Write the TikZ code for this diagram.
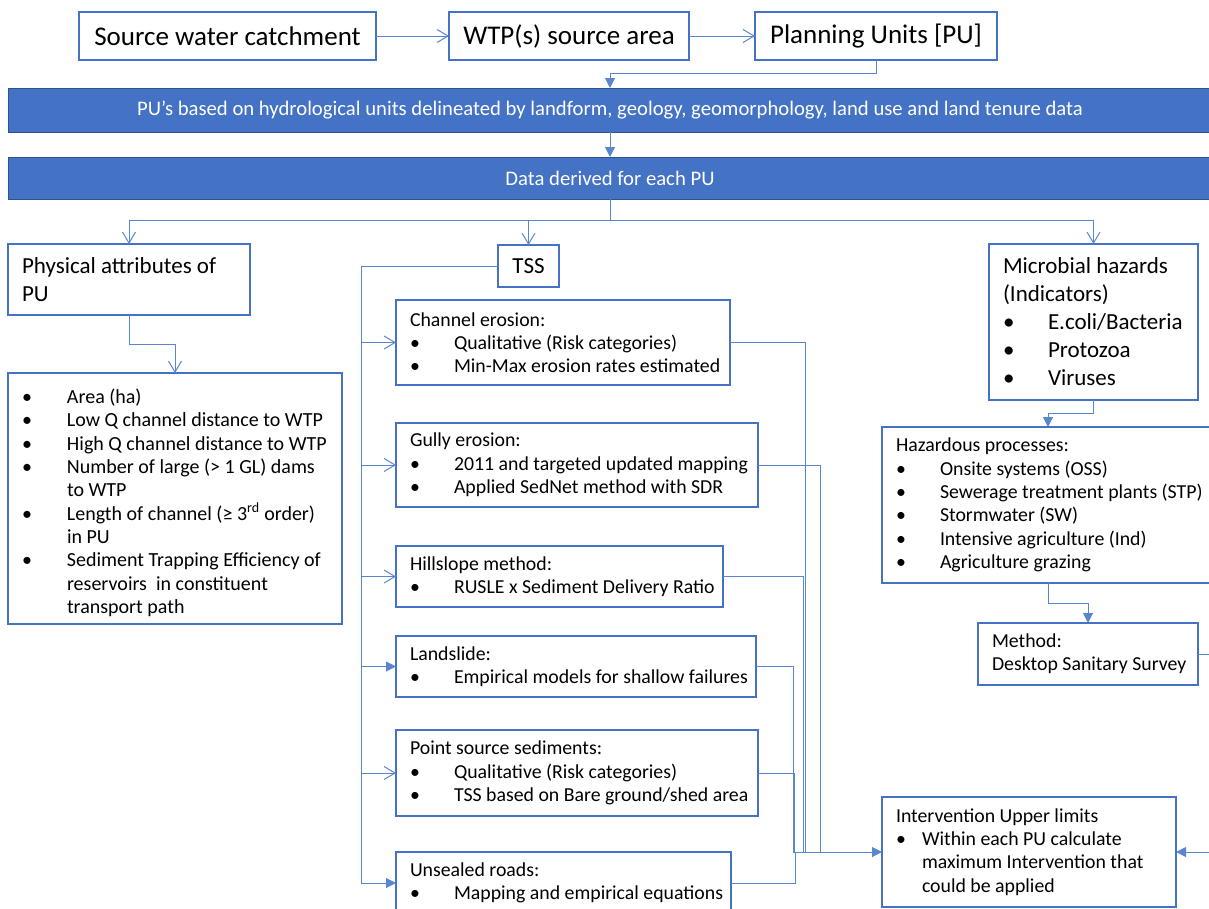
\documentclass[tikz,border=0pt]{standalone}
\usepackage{fontspec}
\setmainfont{Carlito}
\usepackage{tikz}
\usetikzlibrary{arrows.meta, positioning, calc}

\definecolor{pubblue}{HTML}{4472C4}
\definecolor{pubdark}{HTML}{2F528F}
\definecolor{linkblue}{HTML}{5A86D0}

\newcommand{\listfont}{\fontsize{19.8}{23.3}\selectfont}
\newcommand{\headfont}{\fontsize{23}{28}\selectfont}
\newcommand{\bul}[2][44pt]{\par\rightskip=-40pt plus 1fil\hangindent=#1\hangafter=0\noindent\llap{\makebox[#1][l]{\textbullet}}#2\par}

\tikzset{
  box/.style={draw=pubblue, line width=2.2pt, fill=white, anchor=north west, outer sep=0pt, inner xsep=14pt, inner ysep=0pt, align=flush left},
  boxwh/.style 2 args={box, minimum width=#1, minimum height=#2, text width=#1-28pt},
  topbox/.style={box, align=center, minimum height=48pt, font=\fontsize{27}{32}\selectfont},
  band/.style={fill=pubblue, draw=pubdark, line width=0.8pt, text=white, anchor=north west, outer sep=0pt, minimum width=1204pt, font=\fontsize{20.7}{24}\selectfont},
  conn/.style={draw=linkblue, line width=1pt},
  openarr/.style={conn, -{Straight Barb[length=11pt, width=13pt]}},
  fillarr/.style={conn, -{Triangle[length=10pt, width=10pt]}}
}

\begin{document}
\begin{tikzpicture}[x=1pt, y=-1pt]
    \useasboundingbox (0,0) rectangle (1209,908);
    % Top row
    \node[topbox, minimum width=297pt] (src) at (79,12) {Source water catchment};
    \node[topbox, minimum width=240pt] (wtp) at (449,12) {WTP(s) source area};
    \node[topbox, minimum width=242pt] (pu) at (755,12) {Planning Units [PU]};
    % Bands
    \node[band, minimum height=44pt] (units) at (8,88) {PU’s based on hydrological units delineated by landform, geology, geomorphology, land use and land tenure data};
    \node[band, minimum height=42pt] (derived) at (8,157) {Data derived for each PU};
    % Physical attributes
    \node[boxwh={242pt}{71pt}, font=\headfont] (phys) at (8,244) {Physical attributes of\\PU};
    \node[boxwh={334pt}{251pt}, font=\fontsize{20}{23.3}\selectfont] (physlist) at (8,373) {\bul[45pt]{Area (ha)}\bul[45pt]{Low Q channel distance to WTP}\bul[45pt]{High Q channel distance to WTP}\bul[45pt]{Number of large (> 1 GL) dams\newline to WTP}\bul[45pt]{Length of channel (≥ 3\textsuperscript{rd} order)\newline in PU}\bul[45pt]{Sediment Trapping Efficiency of\newline reservoirs\ \ in constituent\newline transport path}};
    % TSS
    \node[box, minimum width=61pt, minimum height=42pt, align=center, font=\headfont] (tss) at (498,245) {TSS};
    \node[boxwh={334pt}{85pt}, font=\listfont] (chan) at (396,300) {Channel erosion:\bul{Qualitative (Risk categories)}\bul{Min-Max erosion rates estimated}};
    \node[boxwh={362pt}{84pt}, font=\listfont] (gully) at (396,423) {Gully erosion:\bul{2011 and targeted updated mapping}\bul{Applied SedNet method with SDR}};
    \node[boxwh={327pt}{61pt}, font=\listfont] (hill) at (396,546) {Hillslope method:\bul{RUSLE x Sediment Delivery Ratio}};
    \node[boxwh={360pt}{61pt}, font=\listfont] (slide) at (396,636) {Landslide:\bul{Empirical models for shallow failures}};
    \node[boxwh={362pt}{86pt}, font=\listfont] (point) at (396,730) {Point source sediments:\bul{Qualitative (Risk categories)}\bul{TSS based on Bare ground/shed area}};
    \node[boxwh={335pt}{62pt}, font=\listfont] (roads) at (396,852) {Unsealed roads:\bul{Mapping and empirical equations}};
    % Microbial hazards
    \node[boxwh={209pt}{156pt}, font=\headfont] (micro) at (989,244) {Microbial hazards\\(Indicators)\bul[45pt]{E.coli/Bacteria}\bul[45pt]{Protozoa}\bul[45pt]{Viruses}};
    \node[boxwh={332pt}{156pt}, font=\listfont] (haz) at (882,427) {Hazardous processes:\bul{Onsite systems (OSS)}\bul{Sewerage treatment plants (STP)}\bul{Stormwater (SW)}\bul{Intensive agriculture (Ind)}\bul{Agriculture grazing}};
    \node[boxwh={220pt}{62pt}, font=\listfont] (method) at (978,623) {Method:\\\mbox{Desktop Sanitary Survey}};
    \node[boxwh={294pt}{110pt}, font=\listfont] (limits) at (882,797) {Intervention Upper limits\bul[26pt]{Within each PU calculate\newline maximum Intervention that\newline could be applied}};
    % Flow down from the top
    \draw[openarr] (src) -- (wtp);
    \draw[openarr] (wtp) -- (pu);
    \draw[fillarr] (pu.south) -- ++(0,13) -| (units.north);
    \draw[fillarr] (units) -- (derived);
    \draw[conn] (derived.south) -- ++(0,21) coordinate (split);
    \draw[openarr] (split) -| (phys.north);
    \draw[openarr] (split) -| (tss.north);
    \draw[openarr] (split) -| (micro.north);
    \draw[openarr] (phys.south) -- ++(0,29) -| (physlist.north);
    % TSS bus
    \coordinate (bus) at (361,266);
    \draw[conn] (tss.west) -| (roads.west -| bus);
    \foreach \n in {chan, gully, hill, point}
      \draw[openarr] (\n.west -| bus) -- (\n.west);
    \foreach \n in {slide, roads}
      \draw[fillarr] (\n.west -| bus) -- (\n.west);
    % Into the upper limits
    \foreach \n/\d in {chan/75, gully/62, hill/80, point/36, roads/64}
      \draw[conn] (\n.east) -- ++(\d,0) |- (limits.west);
    \draw[fillarr] (slide.east) -- ++(37,0) |- (limits.west);
    % Microbial side
    \draw[fillarr] (micro.south) -- ++(0,13) -| (haz.north);
    \draw[fillarr] (haz.south) -- ++(0,20) -| (method.north);
    \draw[fillarr] (method.east) -- ++(30,0) |- (limits.east);
\end{tikzpicture}
\end{document}
